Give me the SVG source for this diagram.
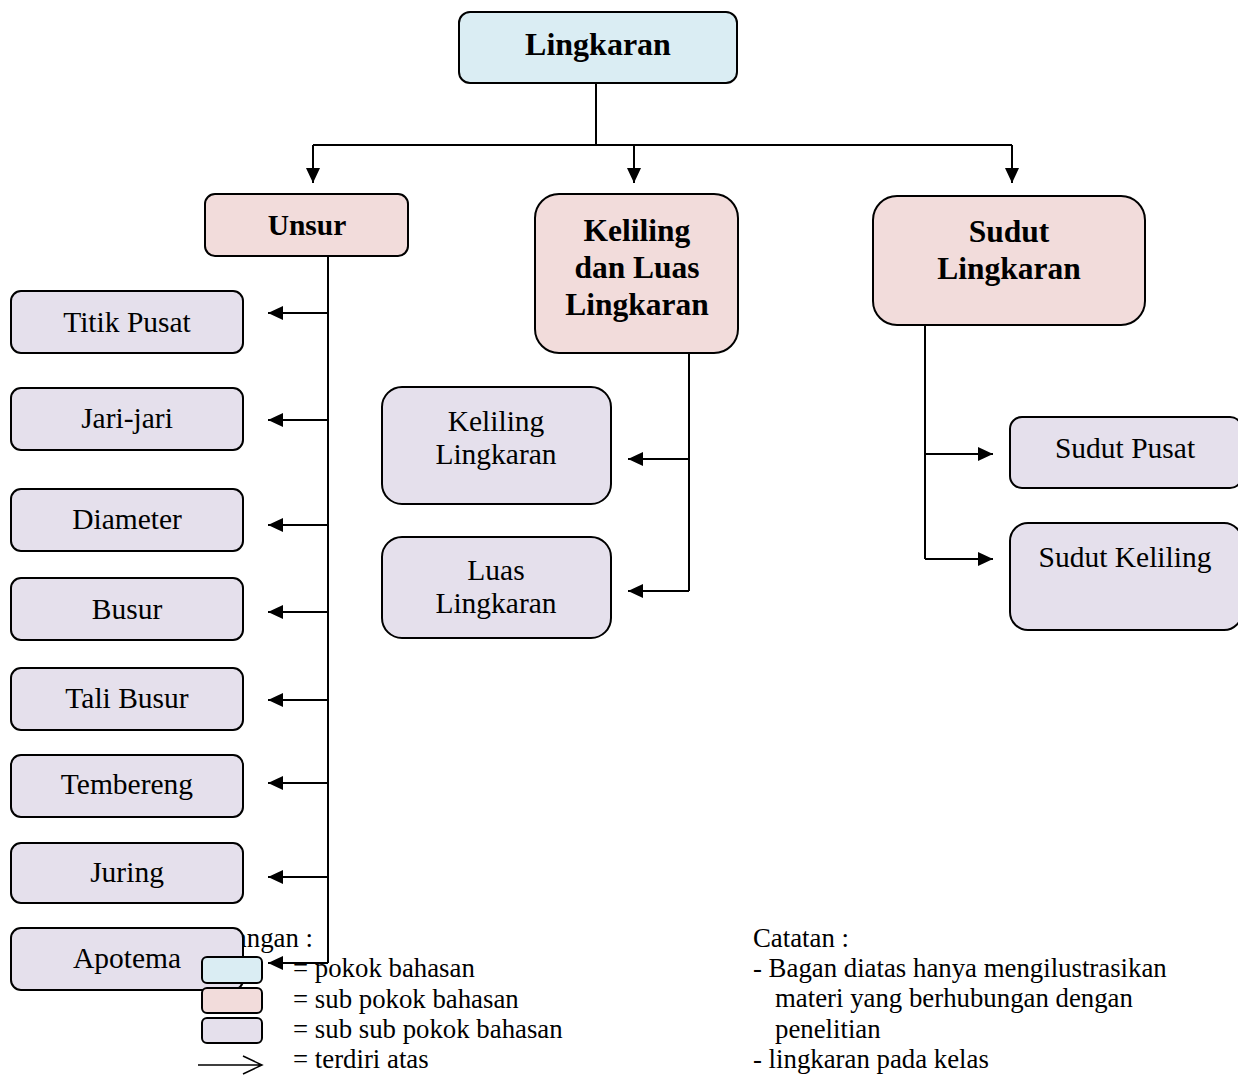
<svg xmlns="http://www.w3.org/2000/svg" width="1238" height="1076" viewBox="0 0 1238 1076">
<style>
.box{stroke:#000;stroke-width:2}
.main{fill:#daedf3}
.sub{fill:#f2dcdb}
.subsub{fill:#e5e0ec}
.t{font-family:"Liberation Serif","Times New Roman",serif;font-size:29.5px;fill:#000;text-anchor:middle}
.b{font-weight:bold;font-size:31.5px}
.lg{font-family:"Liberation Serif","Times New Roman",serif;font-size:26.8px;fill:#000}
.c{stroke:#000;stroke-width:2;fill:none}
</style>
<defs>
<marker id="ah" markerUnits="userSpaceOnUse" markerWidth="16" markerHeight="14" refX="15" refY="7" orient="auto">
<path d="M0,0 L15,7 L0,14 z" fill="#000"/>
</marker>
</defs>
<rect width="1238" height="1076" fill="#fff"/>
<text class="lg" x="313" y="947" text-anchor="end">Keterangan :</text>
<g id="connectors">
<path class="c" d="M596,83 V145 M313,145 H1012"/>
<path class="c" d="M313,145 V183" marker-end="url(#ah)"/>
<path class="c" d="M634,145 V183" marker-end="url(#ah)"/>
<path class="c" d="M1012,145 V183" marker-end="url(#ah)"/>
<path class="c" d="M328,256 V963"/>
<path class="c" d="M328,313 H268" marker-end="url(#ah)"/>
<path class="c" d="M328,420 H268" marker-end="url(#ah)"/>
<path class="c" d="M328,525 H268" marker-end="url(#ah)"/>
<path class="c" d="M328,612 H268" marker-end="url(#ah)"/>
<path class="c" d="M328,700 H268" marker-end="url(#ah)"/>
<path class="c" d="M328,783 H268" marker-end="url(#ah)"/>
<path class="c" d="M328,877 H268" marker-end="url(#ah)"/>
<path class="c" d="M328,963 H268" marker-end="url(#ah)"/>
<path class="c" d="M689,353 V591"/>
<path class="c" d="M689,459 H628" marker-end="url(#ah)"/>
<path class="c" d="M689,591 H628" marker-end="url(#ah)"/>
<path class="c" d="M925,325 V559"/>
<path class="c" d="M925,454 H993" marker-end="url(#ah)"/>
<path class="c" d="M925,559 H993" marker-end="url(#ah)"/>
</g>
<g id="n-lingkaran"><rect class="box main" x="459" y="12" width="278" height="71" rx="11"/><text class="t b" x="598" y="55" style="font-size:32px">Lingkaran</text></g>
<g id="n-unsur"><rect class="box sub" x="205" y="194" width="203" height="62" rx="10"/><text class="t b" x="307" y="235" style="font-size:29.5px">Unsur</text></g>
<g id="n-kelilingluas"><rect class="box sub" x="535" y="194" width="203" height="159" rx="24"/><text class="t b" x="637" y="241">Keliling</text><text class="t b" x="637" y="278">dan Luas</text><text class="t b" x="637" y="315">Lingkaran</text></g>
<g id="n-sudut"><rect class="box sub" x="873" y="196" width="272" height="129" rx="24"/><text class="t b" x="1009" y="242">Sudut</text><text class="t b" x="1009" y="279">Lingkaran</text></g>
<g id="n-titikpusat"><rect class="box subsub" x="11" y="291" width="232" height="62" rx="10"/><text class="t" x="127" y="332">Titik Pusat</text></g>
<g id="n-jarijari"><rect class="box subsub" x="11" y="388" width="232" height="62" rx="10"/><text class="t" x="127" y="428">Jari-jari</text></g>
<g id="n-diameter"><rect class="box subsub" x="11" y="489" width="232" height="62" rx="10"/><text class="t" x="127" y="529">Diameter</text></g>
<g id="n-busur"><rect class="box subsub" x="11" y="578" width="232" height="62" rx="10"/><text class="t" x="127" y="619">Busur</text></g>
<g id="n-talibusur"><rect class="box subsub" x="11" y="668" width="232" height="62" rx="10"/><text class="t" x="127" y="708">Tali Busur</text></g>
<g id="n-tembereng"><rect class="box subsub" x="11" y="755" width="232" height="62" rx="10"/><text class="t" x="127" y="794">Tembereng</text></g>
<g id="n-juring"><rect class="box subsub" x="11" y="843" width="232" height="60" rx="10"/><text class="t" x="127" y="882">Juring</text></g>
<g id="n-apotema"><rect class="box subsub" x="11" y="928" width="232" height="62" rx="10"/><text class="t" x="127" y="968">Apotema</text></g>
<g id="n-kelilinglingkaran"><rect class="box subsub" x="382" y="387" width="229" height="117" rx="20"/><text class="t" x="496" y="431">Keliling</text><text class="t" x="496" y="464">Lingkaran</text></g>
<g id="n-luaslingkaran"><rect class="box subsub" x="382" y="537" width="229" height="101" rx="20"/><text class="t" x="496" y="580">Luas</text><text class="t" x="496" y="613">Lingkaran</text></g>
<g id="n-sudutpusat"><rect class="box subsub" x="1010" y="417" width="232" height="71" rx="12"/><text class="t" x="1125" y="458">Sudut Pusat</text></g>
<g id="n-sudutkeliling"><rect class="box subsub" x="1010" y="523" width="232" height="107" rx="18"/><text class="t" x="1125" y="567">Sudut Keliling</text></g>
<g id="legend">
<rect class="box main" x="202" y="957" width="60" height="26" rx="5"/>
<rect class="box sub" x="202" y="988" width="60" height="25" rx="5"/>
<rect class="box subsub" x="202" y="1018" width="60" height="25" rx="5"/>
<path class="c" style="stroke-width:1.5" d="M198,1065 H262 M243,1056 L262,1065 L243,1074"/>
<text class="lg" x="293" y="977">= pokok bahasan</text>
<text class="lg" x="293" y="1008">= sub pokok bahasan</text>
<text class="lg" x="293" y="1038">= sub sub pokok bahasan</text>
<text class="lg" x="293" y="1068">= terdiri atas</text>
</g>
<g id="catatan">
<text class="lg" x="753" y="947">Catatan :</text>
<text class="lg" x="753" y="977">- Bagan diatas hanya mengilustrasikan</text>
<text class="lg" x="775" y="1007">materi yang berhubungan dengan</text>
<text class="lg" x="775" y="1038">penelitian</text>
<text class="lg" x="753" y="1068">- lingkaran pada kelas</text>
</g>
</svg>
